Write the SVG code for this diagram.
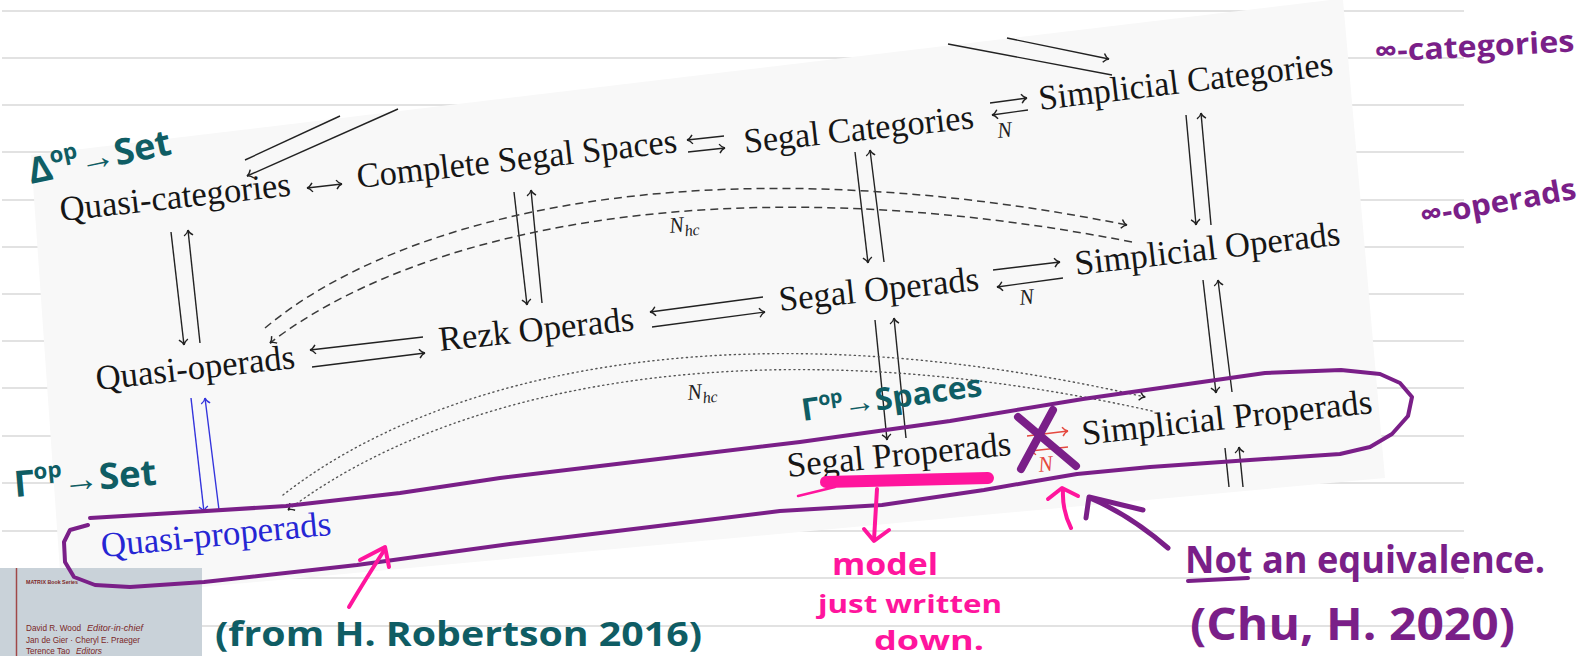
<svg xmlns="http://www.w3.org/2000/svg" width="1581" height="656" viewBox="0 0 1581 656">
<defs>
<style>
.rule{stroke:#d8d8d8;stroke-width:1.6}
.node{font-family:"Liberation Serif","DejaVu Serif",serif;font-size:35px;fill:#161616}
.lbl{font-family:"Liberation Serif","DejaVu Serif",serif;font-style:italic;font-size:22px;fill:#222}
.ln{fill:none;stroke:#222;stroke-width:1.4}
.dash{stroke:#3a3a3a;stroke-width:1.5;stroke-dasharray:8 5}
.dot{stroke:#555;stroke-width:1.4;stroke-dasharray:1.2 3.6;stroke-linecap:round}
.blue{stroke:#3434dc}
.red{stroke:#e5483f}
.hk{marker-end:url(#hk)}
.hb{marker-end:url(#hb)}
.hr{marker-end:url(#hr)}
.hw{font-family:"Open Sans","Liberation Sans",sans-serif;font-weight:700}
.teal{fill:#0f5d64}
.purple{fill:#7a1f88}
.pink{fill:#ff159d}
.ps{fill:none;stroke:#7a1f88;stroke-linecap:round;stroke-linejoin:round}
.ks{fill:none;stroke:#ff159d;stroke-linecap:round;stroke-linejoin:round}
.cover{font-family:"Liberation Sans",sans-serif;fill:#7b2727}
</style>
<marker id="hk" viewBox="-6 -5 7 10" refX="0" refY="0" markerWidth="7" markerHeight="10" markerUnits="userSpaceOnUse" orient="auto-start-reverse" overflow="visible">
<path d="M-5.5,-4.5 C-3.5,-1.5 -1.5,-0.3 0,0 C-1.5,0.3 -3.5,1.5 -5.5,4.5" fill="none" stroke="#222" stroke-width="1.4"/>
</marker>
<marker id="hb" viewBox="-6 -5 7 10" refX="0" refY="0" markerWidth="7" markerHeight="10" markerUnits="userSpaceOnUse" orient="auto-start-reverse" overflow="visible">
<path d="M-5.5,-4.5 C-3.5,-1.5 -1.5,-0.3 0,0 C-1.5,0.3 -3.5,1.5 -5.5,4.5" fill="none" stroke="#3434dc" stroke-width="1.4"/>
</marker>
<marker id="hr" viewBox="-6 -5 7 10" refX="0" refY="0" markerWidth="7" markerHeight="10" markerUnits="userSpaceOnUse" orient="auto-start-reverse" overflow="visible">
<path d="M-5.5,-4.5 C-3.5,-1.5 -1.5,-0.3 0,0 C-1.5,0.3 -3.5,1.5 -5.5,4.5" fill="none" stroke="#e5483f" stroke-width="1.4"/>
</marker>
</defs>

<!-- ruled notebook page -->
<rect width="1581" height="656" fill="#ffffff"/>
<g id="rules">
<line class="rule" x1="2" y1="11" x2="1464" y2="11"/>
<line class="rule" x1="2" y1="58" x2="1464" y2="58"/>
<line class="rule" x1="2" y1="105" x2="1464" y2="105"/>
<line class="rule" x1="2" y1="152" x2="1464" y2="152"/>
<line class="rule" x1="2" y1="200" x2="1464" y2="200"/>
<line class="rule" x1="2" y1="247" x2="1464" y2="247"/>
<line class="rule" x1="2" y1="294" x2="1464" y2="294"/>
<line class="rule" x1="2" y1="341" x2="1464" y2="341"/>
<line class="rule" x1="2" y1="388" x2="1464" y2="388"/>
<line class="rule" x1="2" y1="436" x2="1464" y2="436"/>
<line class="rule" x1="2" y1="483" x2="1464" y2="483"/>
<line class="rule" x1="2" y1="531" x2="1464" y2="531"/>
<line class="rule" x1="2" y1="578" x2="1464" y2="578"/>
<line class="rule" x1="2" y1="626" x2="1464" y2="626"/>
</g>

<!-- pasted diagram sheet -->
<polygon id="sheet" points="31,155 1330,0 1343,0 1385,478 62,600" fill="#f8f8f8"/>

<!-- connectors -->
<g id="connectors">
<!-- long pair over the top row -->
<path class="ln" d="M245,160 L340,116"/>
<path class="ln hk" d="M398,109 L247,176"/>
<path class="ln hk" d="M1007,38 L1109,59"/>
<path class="ln" d="M948,44 L1112,75"/>
<!-- top row -->
<path class="ln hk" d="M307,188 L342,184" marker-start="url(#hk)"/>
<path class="ln hk" d="M724,136 L687,140"/>
<path class="ln hk" d="M688,152 L725,148"/>
<path class="ln hk" d="M990,103 L1027,98"/>
<path class="ln hk" d="M1028,110 L992,115"/>
<!-- verticals top to middle -->
<path class="ln hk" d="M171,232 L184,345"/>
<path class="ln hk" d="M200,343 L188,230"/>
<path class="ln hk" d="M514,192 L527,305"/>
<path class="ln hk" d="M542,303 L531,190"/>
<path class="ln hk" d="M855,152 L868,263"/>
<path class="ln hk" d="M884,262 L870,150"/>
<path class="ln hk" d="M1186,115 L1196,225"/>
<path class="ln hk" d="M1211,225 L1201,113"/>
<!-- middle row -->
<path class="ln hk" d="M423,337 L310,350"/>
<path class="ln hk" d="M312,367 L425,353"/>
<path class="ln hk" d="M763,297 L650,312"/>
<path class="ln hk" d="M652,327 L765,312"/>
<path class="ln hk" d="M993,270 L1060,262"/>
<path class="ln hk" d="M1063,278 L997,287"/>
<!-- dashed nerve arcs -->
<path class="ln dash hk" d="M265,328 C400,215 700,140 1127,225"/>
<path class="ln dash hk" d="M1132,242 C710,160 410,235 270,343"/>
<!-- verticals middle to bottom -->
<path class="ln hk" d="M875,320 L887,440"/>
<path class="ln hk" d="M906,438 L894,318"/>
<path class="ln hk" d="M1203,280 L1216,393"/>
<path class="ln hk" d="M1232,392 L1218,280"/>
<path class="ln" d="M1225,448 L1229,487"/>
<path class="ln hk" d="M1243,487 L1239,447"/>
<path class="ln blue hb" d="M191,398 L204,512"/>
<path class="ln blue hb" d="M219,510 L205,398"/>
<!-- dotted nerve arcs -->
<path class="ln dot hk" d="M283,495 C430,380 720,300 1145,397"/>
<path class="ln dot hk" d="M1152,411 C735,318 440,395 288,510"/>
<!-- bottom row -->
<path class="ln red hr" d="M1027,436 L1068,431"/>
<path class="ln red hr" d="M1068,447 L1030,451"/>
</g>

<!-- arrow labels -->
<g id="labels">
<text class="lbl" x="998" y="138" transform="rotate(-6.3 998 138)">N</text>
<text class="lbl" x="1020" y="305" transform="rotate(-6.3 1020 305)">N</text>
<text class="lbl" x="670" y="233" transform="rotate(-6.3 670 233)">N<tspan font-size="16" dy="5">hc</tspan></text>
<text class="lbl" x="688" y="400" transform="rotate(-6.3 688 400)">N<tspan font-size="16" dy="5">hc</tspan></text>
<text class="lbl" x="1039" y="472" style="fill:#e5483f" transform="rotate(-6.3 1039 472)">N</text>
</g>

<!-- nodes -->
<g id="quasi-categories"><text class="node" x="61" y="221" transform="rotate(-6.3 61 221)" textLength="232" lengthAdjust="spacingAndGlyphs">Quasi-categories</text></g>
<g id="complete-segal-spaces"><text class="node" x="358" y="188" transform="rotate(-6.4 358 188)" textLength="322" lengthAdjust="spacingAndGlyphs">Complete Segal Spaces</text></g>
<g id="segal-categories"><text class="node" x="745" y="153" transform="rotate(-6.2 745 153)" textLength="231" lengthAdjust="spacingAndGlyphs">Segal Categories</text></g>
<g id="simplicial-categories"><text class="node" x="1040" y="110" transform="rotate(-6.8 1040 110)" textLength="296" lengthAdjust="spacingAndGlyphs">Simplicial Categories</text></g>
<g id="quasi-operads"><text class="node" x="97" y="390" transform="rotate(-6.3 97 390)" textLength="200" lengthAdjust="spacingAndGlyphs">Quasi-operads</text></g>
<g id="rezk-operads"><text class="node" x="440" y="351" transform="rotate(-6.1 440 351)" textLength="196" lengthAdjust="spacingAndGlyphs">Rezk Operads</text></g>
<g id="segal-operads"><text class="node" x="780" y="311" transform="rotate(-6 780 311)" textLength="201" lengthAdjust="spacingAndGlyphs">Segal Operads</text></g>
<g id="simplicial-operads"><text class="node" x="1076" y="275" transform="rotate(-6.5 1076 275)" textLength="267" lengthAdjust="spacingAndGlyphs">Simplicial Operads</text></g>
<g id="simplicial-properads"><text class="node" x="1083" y="445" transform="rotate(-6.3 1083 445)" textLength="292" lengthAdjust="spacingAndGlyphs">Simplicial Properads</text></g>
<g id="segal-properads"><text class="node" x="788" y="477" transform="rotate(-5.6 788 477)" textLength="225" lengthAdjust="spacingAndGlyphs">Segal Properads</text></g>
<g id="quasi-properads"><text class="node" x="102" y="557" transform="rotate(-5.5 102 557)" textLength="231" lengthAdjust="spacingAndGlyphs" style="fill:#2626d4">Quasi-properads</text></g>

<!-- book cover corner -->
<g id="book-cover">
<rect x="0" y="568" width="202" height="88" fill="#c9d2d9"/>
<line x1="16.5" y1="568" x2="16.5" y2="656" stroke="#a04848" stroke-width="1.5"/>
<text class="cover" x="26" y="584" font-size="6" font-weight="700" textLength="52" lengthAdjust="spacingAndGlyphs">MATRIX Book Series</text>
<text class="cover" x="26" y="631" font-size="9" textLength="55" lengthAdjust="spacingAndGlyphs">David R. Wood</text>
<text class="cover" x="87" y="631" font-size="9" font-style="italic" textLength="56" lengthAdjust="spacingAndGlyphs">Editor-in-chief</text>
<text class="cover" x="26" y="643" font-size="9" textLength="114" lengthAdjust="spacingAndGlyphs">Jan de Gier · Cheryl E. Praeger</text>
<text class="cover" x="26" y="654" font-size="9" textLength="44" lengthAdjust="spacingAndGlyphs">Terence Tao</text>
<text class="cover" x="76" y="654" font-size="9" font-style="italic" textLength="26" lengthAdjust="spacingAndGlyphs">Editors</text>
</g>

<!-- handwritten notes -->
<g id="note-delta-set"><text class="hw teal" x="31" y="184" font-size="36" transform="rotate(-12 31 184)" textLength="145" lengthAdjust="spacingAndGlyphs">Δ<tspan font-size="22" dy="-16">op</tspan><tspan dy="16">→Set</tspan></text></g>
<g id="note-gamma-set"><text class="hw teal" x="15" y="497" font-size="36" transform="rotate(-5 15 497)" textLength="143" lengthAdjust="spacingAndGlyphs">Γ<tspan font-size="22" dy="-16">op</tspan><tspan dy="16">→Set</tspan></text></g>
<g id="note-gamma-spaces"><text class="hw teal" x="803" y="421" font-size="31" transform="rotate(-8 803 421)" textLength="182" lengthAdjust="spacingAndGlyphs">Γ<tspan font-size="19" dy="-13">op</tspan><tspan dy="13">→Spaces</tspan></text></g>
<g id="note-source"><text class="hw teal" x="215" y="646" font-size="34" textLength="487" lengthAdjust="spacingAndGlyphs">(from H. Robertson 2016)</text></g>

<g id="note-infinity-categories"><text class="hw purple" x="1375" y="62" font-size="30" transform="rotate(-3 1375 62)" textLength="200" lengthAdjust="spacingAndGlyphs">∞-categories</text></g>
<g id="note-infinity-operads"><text class="hw purple" x="1422" y="226" font-size="30" transform="rotate(-10 1422 226)" textLength="158" lengthAdjust="spacingAndGlyphs">∞-operads</text></g>

<g id="properad-loop">
<path class="ps" stroke-width="4" d="M90,518 L190,512 L286,506 L400,493 L500,478 L650,460 L800,442 L950,421 L1083,399 L1188,384 L1265,373 L1341,370 L1380,374 L1400,383 L1412,397 L1408,416 L1392,434 L1370,447 L1340,454 L1250,460 L1150,467 L1077,474 L1030,482 L984,490 L882,505 L780,511 L650,527 L510,544 L357,565 L204,582 L130,587 L95,585 L74,577 L65,562 L64,542 L70,530 L88,525"/>
</g>

<g id="cross-out">
<path class="ps" stroke-width="8" d="M1018,417 L1076,466"/>
<path class="ps" stroke-width="8" d="M1053,410 L1021,469"/>
</g>

<g id="note-not-equivalence">
<path class="ps" stroke-width="5" d="M1168,548 Q1130,515 1090,498"/>
<path class="ps" stroke-width="5" d="M1143,510 L1089,497 L1086,518"/>
<text class="hw purple" x="1185" y="573" font-size="38" textLength="360" lengthAdjust="spacingAndGlyphs">Not an equivalence.</text>
<path class="ps" stroke-width="4" d="M1188,581 L1248,578"/>
<text class="hw purple" x="1190" y="640" font-size="44" textLength="325" lengthAdjust="spacingAndGlyphs">(Chu, H. 2020)</text>
</g>

<g id="note-model">
<path class="ks" stroke-width="12" d="M826,482 L988,478"/>
<path class="ks" stroke-width="2.5" d="M798,496 L835,487"/>
<path class="ks" stroke-width="4" d="M877,489 L874,540"/>
<path class="ks" stroke-width="4" d="M864,529 L874,541 L889,530"/>
<text class="hw pink" x="832" y="575" font-size="31" textLength="106" lengthAdjust="spacingAndGlyphs">model</text>
<text class="hw pink" x="818" y="613" font-size="25" textLength="184" lengthAdjust="spacingAndGlyphs">just written</text>
<text class="hw pink" x="874" y="650" font-size="27" textLength="110" lengthAdjust="spacingAndGlyphs">down.</text>
<path class="ks" stroke-width="4" d="M1071,528 Q1062,510 1063,490"/>
<path class="ks" stroke-width="4" d="M1048,499 L1062,488 L1078,496"/>
<path class="ks" stroke-width="4" d="M349,607 Q365,580 385,549"/>
<path class="ks" stroke-width="4" d="M360,560 L385,547 L389,567"/>
</g>
</svg>
